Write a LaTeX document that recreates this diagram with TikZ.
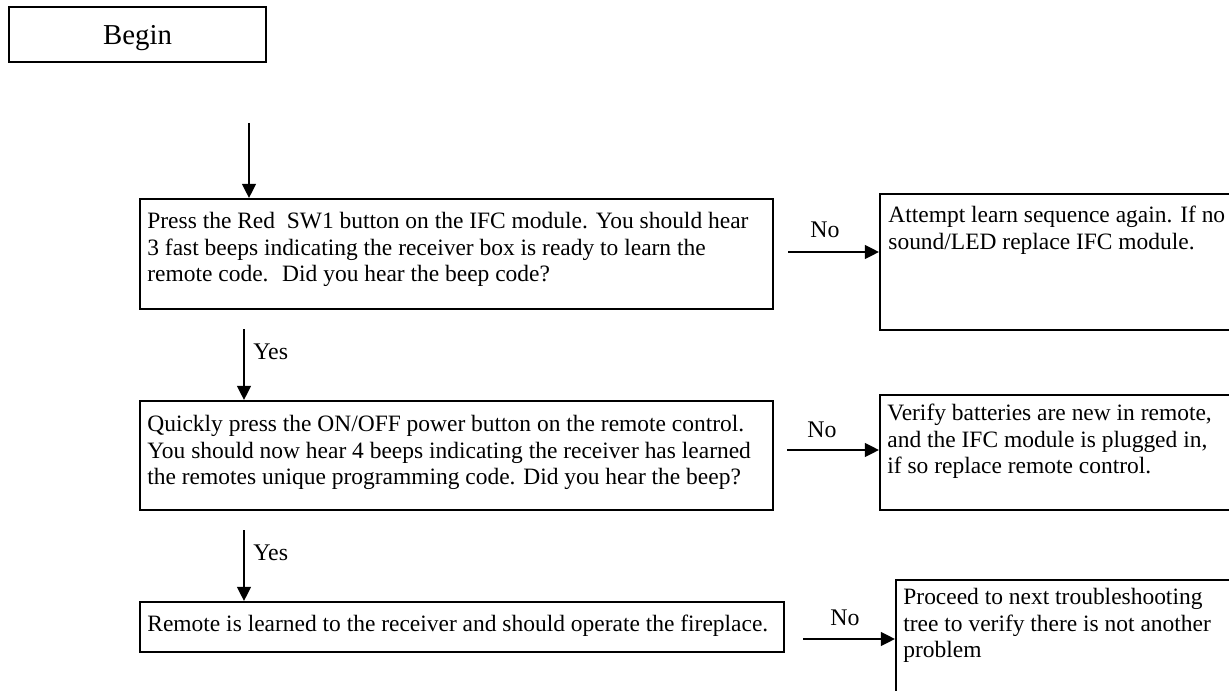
\documentclass[tikz,border=0pt]{standalone}
\usepackage{fontspec}
\setmainfont{Liberation Serif}
\usetikzlibrary{arrows.meta}

\newcommand{\pxu}{0.52pt}

\tikzset{
    frame/.style={draw, line width=1.2pt, inner sep=0pt},
    txt/.style={anchor=north west, inner sep=0pt, align=left,
        font=\fontsize{12.2}{13.8}\selectfont},
    flow/.style={line width=1.1pt, -{Triangle[length=7.4pt, width=7.2pt]}},
    lbl/.style={inner sep=0pt, font=\fontsize{12.4}{14}\selectfont}
}

\begin{document}
\begin{tikzpicture}[x=0.52pt, y=-0.52pt]
    % Page
    \useasboundingbox (0,0) rectangle (1229,691);
    \clip (0,0) rectangle (1229,691);

    % Start
    \node[frame, minimum width=257*\pxu, minimum height=55*\pxu, text depth=0pt,
        font=\fontsize{15}{18}\selectfont] (begin) at (137.5,34.5) {Begin};

    % Questions
    \node[frame, anchor=north west, minimum width=633*\pxu, minimum height=110*\pxu] (q1) at (139,198) {};
    \node[txt] (q1text) at ([shift={(8,14)}]q1.north west)
        {Press the Red~ SW1 button on the IFC module. You should hear\\
         3 fast beeps indicating the receiver box is ready to learn the\\
         remote code.~ Did you hear the beep code?};

    \node[frame, anchor=north west, minimum width=633*\pxu, minimum height=109*\pxu] (q2) at (139,400) {};
    \node[txt] (q2text) at ([shift={(8,15)}]q2.north west)
        {Quickly press the ON/OFF power button on the remote control.\\
         You should now hear 4 beeps indicating the receiver has learned\\
         the remotes unique programming code. Did you hear the beep?};

    \node[frame, anchor=north west, minimum width=644*\pxu, minimum height=50*\pxu] (q3) at (139,601) {};
    \node[txt] (q3text) at ([shift={(8,14)}]q3.north west)
        {Remote is learned to the receiver and should operate the fireplace.};

    % Answers (cut by the page edge)
    \node[frame, anchor=north west, minimum width=400*\pxu, minimum height=136*\pxu] (r1) at (879,193) {};
    \node[txt] (r1text) at ([shift={(9,13)}]r1.north west)
        {Attempt learn sequence again. If no\\
         sound/LED replace IFC module.};

    \node[frame, anchor=north west, minimum width=400*\pxu, minimum height=115*\pxu] (r2) at (879,394) {};
    \node[txt] (r2text) at ([shift={(8,10)}]r2.north west)
        {Verify batteries are new in remote,\\
         and the IFC module is plugged in,\\
         if so replace remote control.};

    \node[frame, anchor=north west, minimum width=400*\pxu, minimum height=200*\pxu] (r3) at (895,579) {};
    \node[txt] (r3text) at ([shift={(8,9)}]r3.north west)
        {Proceed to next troubleshooting\\
         tree to verify there is not another\\
         problem};

    % Down arrows
    \coordinate (s0) at (249,123);
    \coordinate (s1) at (244,329);
    \coordinate (s2) at (244,530);
    \draw[flow] (s0) -- (s0 |- q1.north);
    \draw[flow] (s1) -- (s1 |- q2.north);
    \draw[flow] (s2) -- (s2 |- q3.north);
    \node[lbl, anchor=west] (yes1) at (253,352) {Yes};
    \node[lbl, anchor=west] (yes2) at (253,553) {Yes};

    % Side arrows
    \coordinate (n1) at (788,252);
    \coordinate (n2) at (787,450);
    \coordinate (n3) at (803,639);
    \draw[flow] (n1) -- (n1 -| r1.west);
    \draw[flow] (n2) -- (n2 -| r2.west);
    \draw[flow] (n3) -- (n3 -| r3.west);
    \node[lbl] (no1) at (825,230) {No};
    \node[lbl] (no2) at (822,430) {No};
    \node[lbl] (no3) at (845,618) {No};
\end{tikzpicture}
\end{document}
